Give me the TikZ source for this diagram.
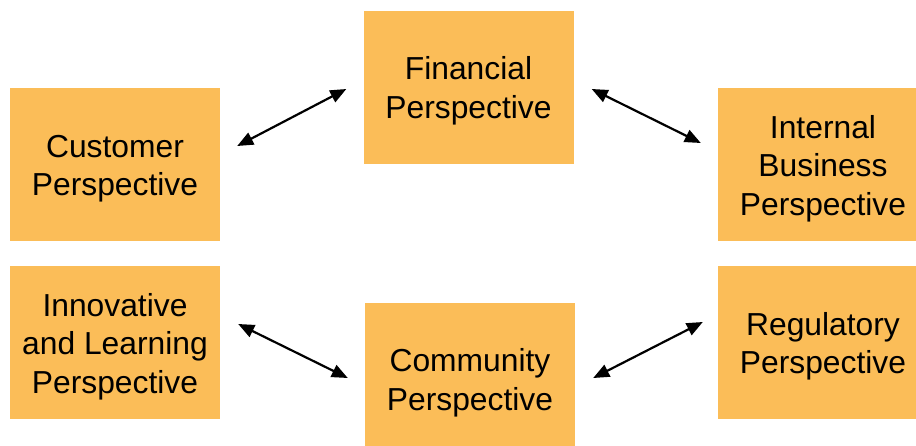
\documentclass[tikz,border=0pt]{standalone}
\usepackage{fontspec}
\setmainfont{Liberation Sans}
\usetikzlibrary{arrows.meta}
\definecolor{boxorange}{RGB}{251,189,88}
\newcommand{\boxtext}[1]{\raisebox{-4.5pt}[\height][\depth]{\begin{tabular}{@{}c@{}}#1\end{tabular}}}
\tikzset{
  pbox/.style={fill=boxorange, draw=none, minimum width=210pt, minimum height=153pt,
    inner sep=0pt, align=center, font=\fontsize{31.8}{38.5}\selectfont},
  arr/.style={line width=2.2pt, {Triangle[length=16pt,width=13pt]}-{Triangle[length=16pt,width=13pt]}}
}
\begin{document}
\begin{tikzpicture}[x=1pt,y=-1pt]
\useasboundingbox (0,0) rectangle (916,445);
\clip (0,0) rectangle (916,445);
\node[pbox] (fin) at (468.5,87) {\boxtext{Financial\\Perspective}};
\node[pbox] (cust) at (115,164.5) {\boxtext{Customer\\Perspective}};
\node[pbox] (int) at (823,164.5) {\boxtext{Internal\\Business\\Perspective}};
\node[pbox] (inn) at (115,342.5) {\boxtext{Innovative\\and Learning\\Perspective}};
\node[pbox] (com) at (470,379) {\boxtext{Community\\Perspective}};
\node[pbox] (reg) at (823,342.5) {\boxtext{Regulatory\\Perspective}};
\draw[arr] ([shift={(17,-18.5)}]cust.east) -- ([shift={(-17,2)}]fin.west);
\draw[arr] ([shift={(18,2)}]fin.east) -- ([shift={(-17,-21.5)}]int.west);
\draw[arr] ([shift={(18,-18.5)}]inn.east) -- ([shift={(-17,-1)}]com.west);
\draw[arr] ([shift={(18,-1)}]com.east) -- ([shift={(-15,-20.5)}]reg.west);
\end{tikzpicture}
\end{document}
